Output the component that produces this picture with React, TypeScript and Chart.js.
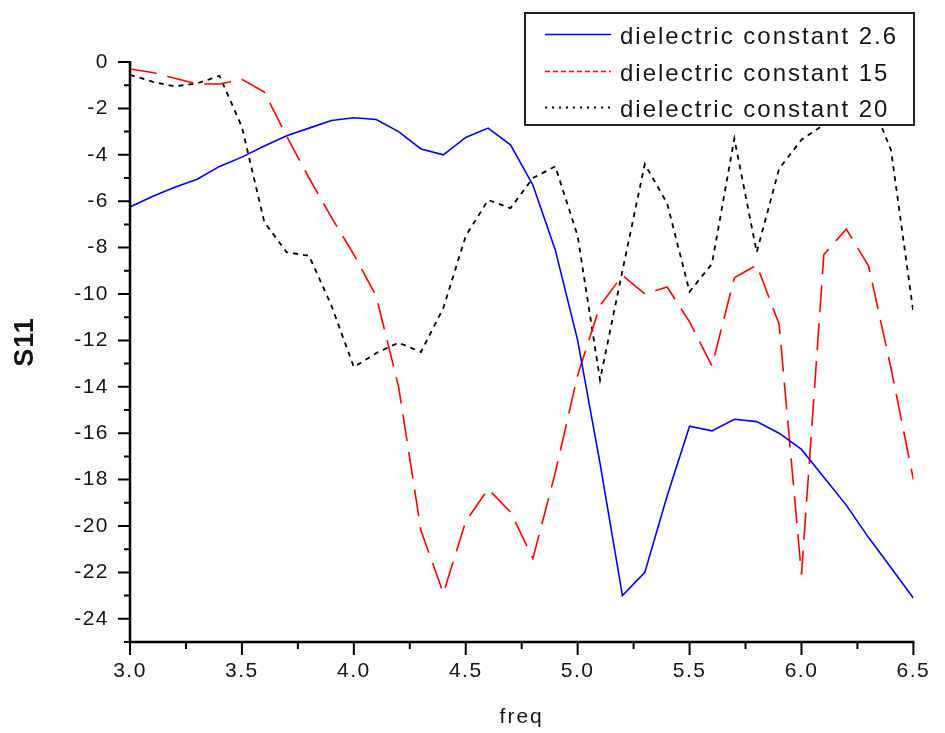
import React, { useEffect, useRef } from 'react';
import { Chart, registerables } from 'chart.js';

Chart.register(...registerables);

// Frequency samples (GHz)
const freq = [
  3.0, 3.1, 3.2, 3.3, 3.4, 3.5, 3.6, 3.7, 3.8, 3.9,
  4.0, 4.1, 4.2, 4.3, 4.4, 4.5, 4.6, 4.7, 4.8, 4.9,
  5.0, 5.1, 5.2, 5.3, 5.4, 5.5, 5.6, 5.7, 5.8, 5.9,
  6.0, 6.1, 6.2, 6.3, 6.4, 6.5,
];

// S11 (dB) for each substrate permittivity
const s11Eps26 = [
  -6.25, -5.8, -5.4, -5.05, -4.5, -4.1, -3.62, -3.18, -2.85, -2.52,
  -2.4, -2.48, -3.0, -3.75, -4.0, -3.25, -2.85, -3.57, -5.3, -8.1,
  -12.0, -17.3, -23.0, -22.0, -18.7, -15.7, -15.9, -15.4, -15.5, -16.0,
  -16.7, -17.9, -19.1, -20.5, -21.8, -23.1,
];
const s11Eps15 = [
  -0.3, -0.45, -0.7, -0.95, -0.95, -0.75, -1.3, -3.2, -5.0, -6.7,
  -8.3, -10.1, -14.0, -20.2, -22.9, -19.8, -18.4, -19.4, -21.4, -17.7,
  -13.5, -10.5, -9.2, -10.0, -9.7, -11.2, -13.1, -9.3, -8.75, -11.3,
  -22.1, -8.3, -7.2, -8.8, -13.2, -18.0,
];
const s11Eps20 = [
  -0.55, -0.85, -1.05, -0.92, -0.6, -2.8, -6.9, -8.2, -8.35, -10.5,
  -13.15, -12.55, -12.1, -12.5, -10.6, -7.5, -5.95, -6.3, -5.0, -4.5,
  -7.5, -13.7, -9.0, -4.4, -6.1, -9.9, -8.7, -3.3, -8.2, -4.6,
  -3.35, -2.7, -1.9, -1.4, -3.8, -10.8,
];

const seriesLabels = [
  'dielectric constant 2.6',
  'dielectric constant 15',
  'dielectric constant 20',
];

// Axis tick positions
const xMajorTicks = [3.0, 3.5, 4.0, 4.5, 5.0, 5.5, 6.0, 6.5];
const xMinorTicks = [3.25, 3.75, 4.25, 4.75, 5.25, 5.75, 6.25];
const yMajorTicks = [0, -2, -4, -6, -8, -10, -12, -14, -16, -18, -20, -22, -24];
const yMinorTicks = [-1, -3, -5, -7, -9, -11, -13, -15, -17, -19, -21, -23, -25];

const FONT = '"Liberation Sans", Arial, Helvetica, sans-serif';
const TEXT_COLOR = '#151515';

const lineStyles = [
  { color: '#0000ff', width: 1.6, dash: [] as number[], legendDash: [] as number[] },
  { color: '#ff0000', width: 1.6, dash: [27, 11], legendDash: [5, 3] },
  { color: '#000000', width: 1.8, dash: [5, 5], legendDash: [2, 5] },
];

const decorPlugin = {
  id: 'decor',
  beforeDraw(chart: any) {
    chart.ctx.letterSpacing = '1.5px';
  },
  afterDatasetsDraw(chart: any) {
    const { ctx, chartArea: a, scales } = chart;
    const xs = scales.x;
    const ys = scales.y;
    ctx.save();
    ctx.strokeStyle = '#000';
    ctx.lineCap = 'butt';

    // axis lines
    ctx.lineWidth = 2.5;
    ctx.beginPath();
    ctx.moveTo(a.left, a.top - 1);
    ctx.lineTo(a.left, a.bottom);
    ctx.lineTo(a.right + 1, a.bottom);
    ctx.stroke();

    // ticks, pointing outward
    ctx.lineWidth = 2;
    ctx.beginPath();
    for (const v of xMajorTicks) {
      const px = xs.getPixelForValue(v);
      ctx.moveTo(px, a.bottom);
      ctx.lineTo(px, a.bottom + 13);
    }
    for (const v of xMinorTicks) {
      const px = xs.getPixelForValue(v);
      ctx.moveTo(px, a.bottom);
      ctx.lineTo(px, a.bottom + 7);
    }
    for (const v of yMajorTicks) {
      const py = ys.getPixelForValue(v);
      ctx.moveTo(a.left, py);
      ctx.lineTo(a.left - 12, py);
    }
    for (const v of yMinorTicks) {
      const py = ys.getPixelForValue(v);
      ctx.moveTo(a.left, py);
      ctx.lineTo(a.left - 6, py);
    }
    ctx.stroke();
    ctx.restore();
  },
  afterDraw(chart: any) {
    const { ctx, chartArea: a } = chart;

    // axis titles
    ctx.save();
    ctx.fillStyle = TEXT_COLOR;
    ctx.letterSpacing = '2px';
    ctx.font = `21px ${FONT}`;
    ctx.textAlign = 'center';
    ctx.textBaseline = 'middle';
    ctx.fillText('freq', (a.left + a.right) / 2, 717);
    ctx.restore();

    ctx.save();
    ctx.fillStyle = TEXT_COLOR;
    ctx.letterSpacing = '1px';
    ctx.font = `bold 27px ${FONT}`;
    ctx.translate(26, 342);
    ctx.rotate(-Math.PI / 2);
    ctx.textAlign = 'center';
    ctx.textBaseline = 'middle';
    ctx.fillText('S11', 0, 0);
    ctx.restore();

    // legend box
    const bx = 525, by = 13, bw = 389, bh = 112;
    ctx.save();
    ctx.fillStyle = '#ffffff';
    ctx.fillRect(bx, by, bw, bh);
    ctx.strokeStyle = '#222';
    ctx.lineWidth = 2;
    ctx.strokeRect(bx, by, bw, bh);

    const sampleY = [34.5, 71.5, 107.5];
    const baseY = [44, 80.5, 116.5];
    seriesLabels.forEach((label, i) => {
      const st = lineStyles[i];
      ctx.beginPath();
      ctx.setLineDash(st.legendDash);
      ctx.strokeStyle = st.color;
      ctx.lineWidth = st.width;
      ctx.moveTo(545, sampleY[i]);
      ctx.lineTo(611, sampleY[i]);
      ctx.stroke();
      ctx.setLineDash([]);
      ctx.fillStyle = TEXT_COLOR;
      ctx.letterSpacing = '2px';
      ctx.font = `24px ${FONT}`;
      ctx.textAlign = 'left';
      ctx.textBaseline = 'alphabetic';
      ctx.fillText(label, 620, baseY[i]);
    });
    ctx.restore();
  },
};

export default function App() {
  const canvasRef = useRef<HTMLCanvasElement | null>(null);

  useEffect(() => {
    const canvas = canvasRef.current;
    if (!canvas) return;
    const series = [s11Eps26, s11Eps15, s11Eps20];
    const chart = new Chart(canvas, {
      type: 'line',
      data: {
        datasets: series.map((vals, i) => ({
          label: seriesLabels[i],
          data: freq.map((f, j) => ({ x: f, y: vals[j] })),
          borderColor: lineStyles[i].color,
          borderWidth: lineStyles[i].width,
          borderDash: lineStyles[i].dash,
          pointRadius: 0,
          tension: 0,
          fill: false,
        })),
      },
      options: {
        animation: false,
        responsive: false,
        devicePixelRatio: 1,
        layout: { padding: { left: 0, top: 62, right: 21, bottom: 0 } },
        plugins: {
          legend: { display: false },
          tooltip: { enabled: false },
        },
        scales: {
          x: {
            type: 'linear',
            min: 3,
            max: 6.5,
            grid: { display: false, drawTicks: false },
            border: { display: false },
            ticks: {
              stepSize: 0.5,
              padding: 17,
              autoSkip: false,
              maxRotation: 0,
              color: TEXT_COLOR,
              font: { family: FONT, size: 21 },
              callback: (v: any) => Number(v).toFixed(1),
            },
            afterFit: (s: any) => {
              s.height = 91;
            },
          },
          y: {
            type: 'linear',
            min: -25,
            max: 0,
            grid: { display: false, drawTicks: false },
            border: { display: false },
            ticks: {
              stepSize: 1,
              padding: 21,
              autoSkip: false,
              color: TEXT_COLOR,
              font: { family: FONT, size: 21 },
              callback: (v: any) => (Number(v) % 2 === 0 ? String(v) : ''),
            },
            afterFit: (s: any) => {
              s.width = 130;
            },
          },
        },
      } as any,
      plugins: [decorPlugin],
    });
    return () => chart.destroy();
  }, []);

  return (
    <div
      style={{
        position: 'fixed',
        left: 0,
        top: 0,
        width: 945,
        height: 733,
        background: '#fdfdfd',
      }}
    >
      <canvas ref={canvasRef} width={945} height={733} style={{ display: 'block' }} />
    </div>
  );
}
